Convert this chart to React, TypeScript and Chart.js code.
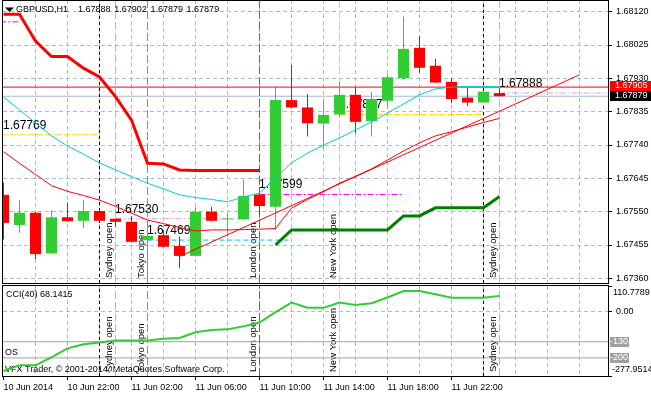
import React, { useEffect, useRef } from 'react';
import { Chart, registerables } from 'chart.js';

Chart.register(...registerables);

const FONT = '"Liberation Sans", Arial, Helvetica, sans-serif';
const GRID_COLOR = '#A9BCD8';
const CLEAR = 'rgba(0,0,0,0)';

// ---------- data (GBPUSD H1, first bar = 10 Jun 2014 18:00) ----------
const openPrices = [1.67598, 1.67512, 1.67547, 1.67431, 1.67534, 1.67524, 1.67552, 1.6753, 1.67521, 1.67469, 1.67483, 1.67452, 1.67424, 1.6755, 1.67528, 1.67528, 1.67599, 1.67564, 1.67868, 1.67847, 1.67801, 1.67827, 1.67883, 1.67808, 1.67866, 1.6793, 1.68017, 1.67966, 1.6792, 1.67875, 1.67861, 1.67888];
const highPrices = [1.67633, 1.67583, 1.67549, 1.67555, 1.67576, 1.67583, 1.67553, 1.6753, 1.67538, 1.67503, 1.67498, 1.67479, 1.67562, 1.67564, 1.67545, 1.6764, 1.676, 1.67908, 1.67968, 1.67885, 1.67868, 1.6792, 1.67906, 1.67892, 1.67942, 1.68106, 1.68051, 1.67985, 1.6793, 1.67904, 1.67893, 1.67902];
const lowPrices = [1.67471, 1.6749, 1.67415, 1.6743, 1.67521, 1.67503, 1.67522, 1.67507, 1.67462, 1.67367, 1.67448, 1.67389, 1.67422, 1.67522, 1.67479, 1.67526, 1.67541, 1.67498, 1.67845, 1.67764, 1.67731, 1.6782, 1.67773, 1.67764, 1.67845, 1.67925, 1.67946, 1.67917, 1.67859, 1.67851, 1.6786, 1.67879];
const closePrices = [1.67518, 1.67547, 1.67429, 1.67534, 1.67523, 1.67552, 1.67524, 1.67521, 1.67464, 1.67481, 1.6745, 1.67424, 1.6755, 1.67524, 1.67529, 1.67595, 1.67566, 1.67868, 1.67847, 1.67802, 1.67826, 1.67883, 1.67806, 1.67871, 1.67933, 1.68014, 1.6796, 1.67918, 1.67871, 1.67861, 1.67892, 1.67879];

const trailDown = [1.68113, 1.68113, 1.68036, 1.67992, 1.67992, 1.67959, 1.67934, 1.67878, 1.67811, 1.67688, 1.67686, 1.67669, 1.67667, 1.67667, 1.67667, 1.67667, 1.67667, null, null, null, null, null, null, null, null, null, null, null, null, null, null, null];
const trailUp = [null, null, null, null, null, null, null, null, null, null, null, null, null, null, null, null, null, 1.67455, 1.67498, 1.67498, 1.67498, 1.67498, 1.67498, 1.67498, 1.67498, 1.67538, 1.67538, 1.67561, 1.67561, 1.67561, 1.67561, 1.67593];
const maSlow = [1.67721, 1.67688, 1.67656, 1.67624, 1.67608, 1.67596, 1.67583, 1.67565, 1.67546, 1.67526, 1.67516, 1.67505, 1.67495, 1.67498, 1.67498, 1.67499, 1.675, 1.67502, 1.6756, 1.67585, 1.67607, 1.67631, 1.67651, 1.67672, 1.67697, 1.67723, 1.67746, 1.67766, 1.67778, 1.67791, 1.67804, 1.67816];
const maFast = [1.67877, 1.6784, 1.67803, 1.67766, 1.67737, 1.67714, 1.67689, 1.67669, 1.6765, 1.67631, 1.67615, 1.67598, 1.6759, 1.67585, 1.67578, 1.67592, 1.67603, 1.67646, 1.67689, 1.67717, 1.6774, 1.6776, 1.67783, 1.67806, 1.67831, 1.67857, 1.67883, 1.679, 1.67905, 1.67907, 1.67907, 1.67907];
const cciValues = [-256.6, -232, -232, -197, -158.5, -141, -133, -125, -125, -125, -117, -114, -89, -79.5, -76.5, -63.5, -47, -2, 39, 17, 16.5, 39, 28.5, 36, 61, 89, 89, 75, 60.5, 60.5, 60.5, 68.1415];

const trendIndex = [11, 36];
const trendPrice = [1.67422, 1.6794];

const bidPrice = 1.67879;
const alertPrice = 1.67905;

const levelPrices = [1.68091, 1.67769, 1.6753, 1.67469, 1.67599, 1.67827, 1.67888];
const levelFrom = [-0.2, -0.2, 7, 9, 16, 21, 31];
const levelTo = [1, 6, 14, 18, 25, 30, 38];
const levelKind = ['london', 'newyork', 'sydney', 'tokyo', 'london', 'newyork', 'sydney'];
const levelLabelled = [false, true, true, true, true, true, true];

const sessionIndex = [7, 9, 16, 21, 31];
const sessionNames = ['Sydney open', 'Tokyo open', 'London open', 'New York open', 'Sydney open'];
const sessionKind = ['sydney', 'tokyo', 'london', 'newyork', 'sydney'];
const separatorIndex = [6, 30];

const priceTicks = [1.6736, 1.67455, 1.6755, 1.67645, 1.6774, 1.67835, 1.6793, 1.68025, 1.6812];
const priceMin = 1.673467;
const priceMax = 1.6815326;
const indexMin = -0.03125;
const indexMax = 37.78125;
const gridIndices = [0, 2, 4, 6, 8, 10, 12, 14, 16, 18, 20, 22, 24, 26, 28, 30, 32, 34, 36];
const timeLabelIndices = [0, 4, 8, 12, 16, 20, 24, 28];
const timeLabels = ['10 Jun 2014', '10 Jun 22:00', '11 Jun 02:00', '11 Jun 06:00', '11 Jun 10:00', '11 Jun 14:00', '11 Jun 18:00', '11 Jun 22:00'];

const cciMin = -277.9514;
const cciMax = 110.7789;
const cciLevels = [-130, -200];

const symbolTitle = 'GBPUSD,H1';
const cciTitle = 'CCI(40) 68.1415';
const osLabel = 'OS';
const copyrightText = 'VFX Trader, © 2001-2014, MetaQuotes Software Corp.';

// ---------- styles ----------
const kindColor: Record<string, string> = {
  sydney: '#DDA0DD',
  tokyo: '#00BFFF',
  london: '#FF00FF',
  newyork: '#FFD700',
};
const kindDash: Record<string, number[]> = {
  sydney: [6, 2, 2, 2],
  tokyo: [5, 3],
  london: [6, 2, 2, 2],
  newyork: [7, 2],
};

const bars = openPrices.map((_, i) => i);
const candleColors = bars.map((i) => (closePrices[i] >= openPrices[i] ? '#32CD32' : '#FF0000'));

function lineDs(data: any[], color: string, width: number, order: number, dash: number[] = []) {
  return {
    type: 'line',
    data,
    borderColor: color,
    backgroundColor: color,
    borderWidth: width,
    borderDash: dash,
    pointRadius: 0,
    pointHoverRadius: 0,
    tension: 0,
    fill: false,
    spanGaps: false,
    order,
  };
}

function series(values: (number | null)[]) {
  return values.map((v, i) => ({ x: i, y: v }));
}

function verticalDatasets(lo: number, hi: number) {
  const out: any[] = [];
  separatorIndex.forEach((s) => {
    out.push(lineDs([{ x: s, y: lo }, { x: s, y: hi }], '#000000', 1, 30, [3, 3]));
  });
  sessionIndex.forEach((s, k) => {
    out.push(lineDs([{ x: s, y: lo }, { x: s, y: hi }], kindColor[sessionKind[k]], 1, 30, [8, 3]));
  });
  return out;
}

function xScale(withLabels: boolean) {
  return {
    type: 'linear',
    min: indexMin,
    max: indexMax,
    offset: false,
    bounds: 'data',
    grid: {
      offset: false,
      color: (c: any) => (c.tick && c.tick.value > 0 ? GRID_COLOR : CLEAR),
      lineWidth: 1,
      drawTicks: withLabels,
      tickLength: 4,
      tickWidth: 1,
      tickBorderDash: [],
      tickColor: (c: any) => (c.tick && timeLabelIndices.indexOf(c.tick.value) >= 0 ? '#000000' : CLEAR),
    },
    border: { display: false, dash: [4, 3] },
    ticks: withLabels
      ? {
          display: true,
          autoSkip: false,
          maxRotation: 0,
          minRotation: 0,
          align: 'start',
          padding: 2,
          color: '#000000',
          font: { family: FONT, size: 9 },
          callback: (v: any) => {
            const k = timeLabelIndices.indexOf(Number(v));
            return k >= 0 ? timeLabels[k] : '';
          },
        }
      : { display: false },
    afterBuildTicks: (s: any) => {
      s.ticks = gridIndices.map((v) => ({ value: v }));
    },
    afterFit: (s: any) => {
      s.height = withLabels ? 19 : 0;
      s.paddingLeft = 0;
      s.paddingRight = 0;
    },
  };
}

function drawRotated(ctx: CanvasRenderingContext2D, text: string, x: number, y: number) {
  ctx.save();
  ctx.translate(x, y);
  ctx.rotate(-Math.PI / 2);
  ctx.fillText(text, 0, 0);
  ctx.restore();
}

const mainOverlay = {
  id: 'mainOverlay',
  beforeDatasetsDraw(chart: any) {
    const { ctx } = chart;
    const xs = chart.scales.x;
    const ys = chart.scales.y;
    ctx.save();
    ctx.fillStyle = '#000000';
    ctx.textAlign = 'left';
    ctx.textBaseline = 'alphabetic';
    ctx.font = `12px ${FONT}`;
    levelPrices.forEach((p, k) => {
      if (!levelLabelled[k]) return;
      const px = Math.max(3, xs.getPixelForValue(levelFrom[k]) - 0.5);
      ctx.fillText(p.toFixed(5), px, ys.getPixelForValue(p) - 6);
    });
    ctx.font = `9.5px ${FONT}`;
    sessionIndex.forEach((s, k) => {
      drawRotated(ctx, sessionNames[k], xs.getPixelForValue(s) - 3.5, 278);
    });
    ctx.restore();
  },
  afterDraw(chart: any) {
    const { ctx } = chart;
    const ys = chart.scales.y;
    ctx.save();
    ctx.strokeStyle = '#000000';
    ctx.lineWidth = 1;
    ctx.strokeRect(2.5, 0.5, 606, 283);

    // header
    ctx.fillStyle = '#000000';
    ctx.beginPath();
    ctx.moveTo(5, 7.5);
    ctx.lineTo(14, 7.5);
    ctx.lineTo(9.5, 12);
    ctx.closePath();
    ctx.fill();
    ctx.font = `9px ${FONT}`;
    ctx.textBaseline = 'middle';
    ctx.textAlign = 'left';
    ctx.fillText(symbolTitle, 16, 10);
    const last = openPrices.length - 1;
    const hdr = [openPrices[last], highPrices[last], lowPrices[last], closePrices[last]];
    hdr.forEach((v, k) => ctx.fillText(v.toFixed(5), 78 + k * 36.2, 10));

    // right axis price boxes
    const yr = Math.round(ys.getPixelForValue(alertPrice));
    const yb = Math.round(ys.getPixelForValue(bidPrice));
    ctx.fillStyle = '#FF0000';
    ctx.fillRect(610, yr - 6, 41, 10);
    ctx.fillStyle = '#000000';
    ctx.fillRect(610, yb - 5, 41, 10);
    ctx.fillStyle = '#FFFFFF';
    ctx.fillText(alertPrice.toFixed(5), 615, yr - 1);
    ctx.fillText(bidPrice.toFixed(5), 615, yb);
    ctx.restore();
  },
};

const cciOverlay = {
  id: 'cciOverlay',
  beforeDatasetsDraw(chart: any) {
    const { ctx } = chart;
    const xs = chart.scales.x;
    ctx.save();
    ctx.fillStyle = '#000000';
    ctx.textAlign = 'left';
    ctx.textBaseline = 'alphabetic';
    ctx.font = `9.5px ${FONT}`;
    sessionIndex.forEach((s, k) => {
      drawRotated(ctx, sessionNames[k], xs.getPixelForValue(s) - 3.5, 87);
    });
    ctx.font = `9px ${FONT}`;
    ctx.textBaseline = 'middle';
    ctx.fillText(cciTitle, 6, 10);
    ctx.fillText(osLabel, 5, 67.5);
    ctx.fillText(copyrightText, 5, 84.5);
    ctx.restore();
  },
  afterDraw(chart: any) {
    const { ctx } = chart;
    const ys = chart.scales.y;
    ctx.save();
    ctx.strokeStyle = '#000000';
    ctx.lineWidth = 1;
    ctx.strokeRect(2.5, 0.5, 606, 91);
    ctx.font = `9px ${FONT}`;
    ctx.textBaseline = 'middle';
    ctx.textAlign = 'left';
    ctx.fillStyle = '#000000';
    ctx.fillText(cciMax.toFixed(4), 613, 8);
    ctx.fillText(cciMin.toFixed(4), 612, 85);
    cciLevels.forEach((lv) => {
      const cy = Math.round(ys.getPixelForValue(lv));
      ctx.fillStyle = '#A0A0A0';
      ctx.fillRect(610, cy - 5, 19, 10);
      ctx.fillStyle = '#FFFFFF';
      ctx.fillText(String(lv), 610, cy);
    });
    ctx.restore();
  },
};

function mainConfig(): any {
  const datasets: any[] = [];
  // full-width price lines
  datasets.push(lineDs([{ x: indexMin, y: bidPrice }, { x: indexMax, y: bidPrice }], '#A4B8D6', 1, 31));
  datasets.push(lineDs([{ x: indexMin, y: alertPrice }, { x: indexMax, y: alertPrice }], '#FF0000', 1, 31));
  // session levels
  levelPrices.forEach((p, k) => {
    datasets.push(
      lineDs([{ x: levelFrom[k], y: p }, { x: levelTo[k], y: p }], kindColor[levelKind[k]], 1, 30, kindDash[levelKind[k]])
    );
  });
  datasets.push(...verticalDatasets(priceMin, priceMax));
  // candles
  datasets.push({
    type: 'bar',
    data: bars.map((i) => ({ x: i, y: [lowPrices[i], highPrices[i]] })),
    backgroundColor: candleColors,
    borderWidth: 0,
    barThickness: 1,
    grouped: false,
    inflateAmount: 0,
    minBarLength: 1,
    order: 21,
  });
  datasets.push({
    type: 'bar',
    data: bars.map((i) => ({ x: i, y: [openPrices[i], closePrices[i]] })),
    backgroundColor: candleColors,
    borderWidth: 0,
    barThickness: 11,
    grouped: false,
    inflateAmount: 0,
    minBarLength: 1,
    order: 20,
  });
  // indicators
  datasets.push(lineDs(series(maSlow), '#FF0000', 1, 3));
  datasets.push(lineDs(series(maFast), '#00CED1', 1, 3));
  datasets.push(lineDs(series(trailDown), '#FF0000', 3, 2));
  datasets.push(lineDs(series(trailUp), '#008000', 3, 2));
  datasets.push(lineDs(trendIndex.map((x, k) => ({ x, y: trendPrice[k] })), '#FF0000', 1, 1));

  return {
    type: 'bar',
    data: { datasets },
    options: {
      animation: false,
      responsive: false,
      devicePixelRatio: 1,
      events: [],
      layout: { padding: { left: 3, top: 0, right: 0, bottom: 2 } },
      plugins: { legend: { display: false }, tooltip: { enabled: false } },
      scales: {
        x: xScale(false),
        y: {
          type: 'linear',
          position: 'right',
          min: priceMin,
          max: priceMax,
          bounds: 'data',
          beginAtZero: false,
          grid: { color: GRID_COLOR, lineWidth: 1, drawTicks: true, tickLength: 4, tickColor: '#000000', tickWidth: 1, tickBorderDash: [] },
          border: { display: false, dash: [4, 3] },
          ticks: {
            color: '#000000',
            font: { family: FONT, size: 9 },
            padding: 4,
            autoSkip: false,
            callback: (v: any) => Number(v).toFixed(5),
          },
          afterBuildTicks: (s: any) => {
            s.ticks = priceTicks.map((v) => ({ value: v }));
          },
          afterFit: (s: any) => {
            s.width = 43;
            s.paddingTop = 0;
            s.paddingBottom = 0;
          },
        },
      },
    },
    plugins: [mainOverlay],
  };
}

function cciConfig(): any {
  const datasets: any[] = [];
  cciLevels.forEach((lv) => {
    datasets.push(lineDs([{ x: indexMin, y: lv }, { x: indexMax, y: lv }], '#A0A0A0', 1, 31));
  });
  datasets.push(...verticalDatasets(cciMin, cciMax));
  datasets.push(lineDs(series(cciValues), '#32CD32', 2, 1));
  return {
    type: 'line',
    data: { datasets },
    options: {
      animation: false,
      responsive: false,
      devicePixelRatio: 1,
      events: [],
      layout: { padding: { left: 3, top: 1, right: 0, bottom: 0 } },
      plugins: { legend: { display: false }, tooltip: { enabled: false } },
      scales: {
        x: xScale(true),
        y: {
          type: 'linear',
          position: 'right',
          min: cciMin,
          max: cciMax,
          bounds: 'data',
          beginAtZero: false,
          grid: {
            color: (c: any) => (c.tick && c.tick.value === 0 ? GRID_COLOR : CLEAR),
            lineWidth: 1,
            drawTicks: true,
            tickLength: 4,
            tickColor: '#000000',
            tickWidth: 1,
            tickBorderDash: [],
          },
          border: { display: false, dash: [4, 3] },
          ticks: {
            color: '#000000',
            font: { family: FONT, size: 9 },
            padding: 4,
            autoSkip: false,
            callback: (v: any) => (Number(v) === 0 ? '0.00' : ''),
          },
          afterBuildTicks: (s: any) => {
            s.ticks = [cciMin, 0, cciMax].map((v) => ({ value: v }));
          },
          afterFit: (s: any) => {
            s.width = 43;
            s.paddingTop = 0;
            s.paddingBottom = 0;
          },
        },
      },
    },
    plugins: [cciOverlay],
  };
}

export default function App() {
  const mainRef = useRef<HTMLCanvasElement>(null);
  const cciRef = useRef<HTMLCanvasElement>(null);
  useEffect(() => {
    if (!mainRef.current || !cciRef.current) return;
    const main = new Chart(mainRef.current, mainConfig());
    const cci = new Chart(cciRef.current, cciConfig());
    return () => {
      main.destroy();
      cci.destroy();
    };
  }, []);
  return (
    <div style={{ position: 'absolute', left: 0, top: 0, width: 651, height: 395, background: '#ffffff', overflow: 'hidden' }}>
      <canvas ref={mainRef} width={651} height={285} style={{ position: 'absolute', left: 0, top: 0, display: 'block' }} />
      <canvas ref={cciRef} width={651} height={110} style={{ position: 'absolute', left: 0, top: 285, display: 'block' }} />
    </div>
  );
}
